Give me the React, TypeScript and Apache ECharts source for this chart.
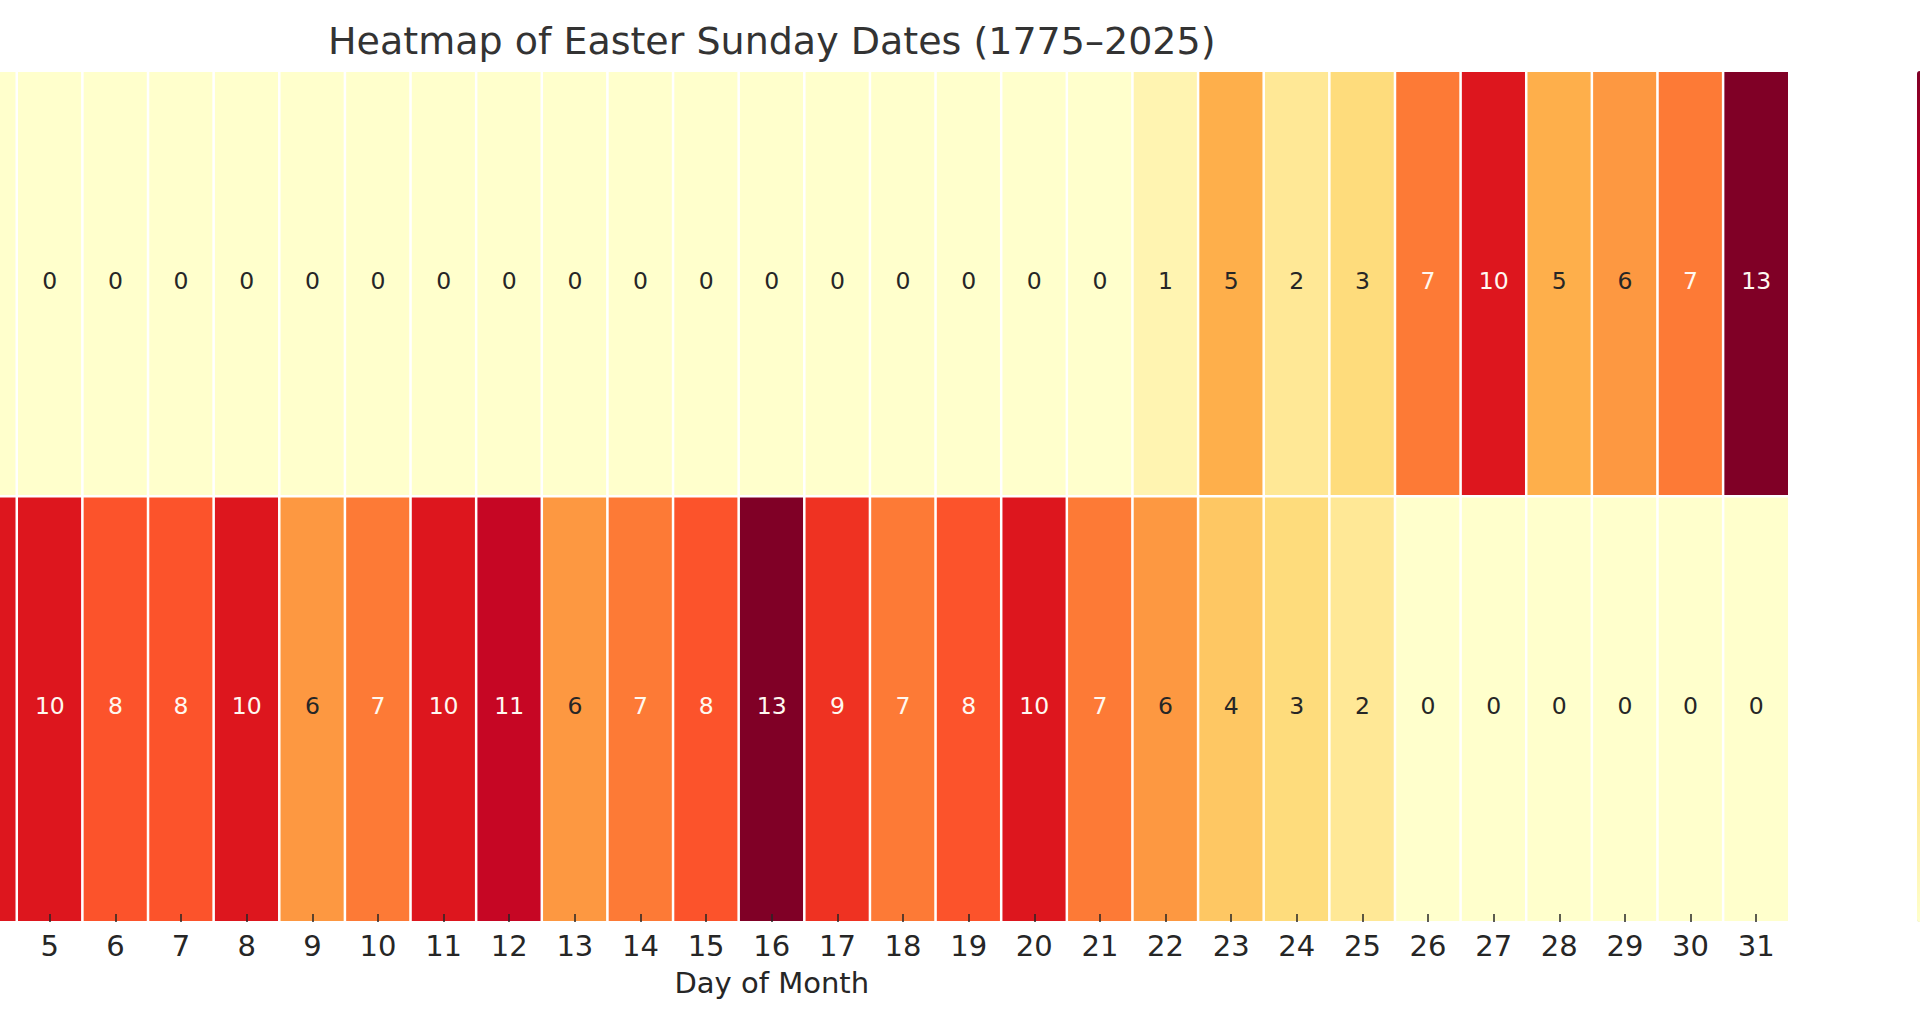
import React, { useEffect, useRef } from "react";
import * as echarts from "echarts";

const days: string[] = [
  "1", "2", "3", "4", "5", "6", "7", "8", "9", "10", "11", "12", "13", "14", "15", "16",
  "17", "18", "19", "20", "21", "22", "23", "24", "25", "26", "27", "28", "29", "30", "31",
];
const months: string[] = ["March", "April"];
const marchCounts: number[] = [
  0, 0, 0, 0, 0, 0, 0, 0, 0, 0, 0, 0, 0, 0, 0, 0, 0, 0, 0, 0, 0, 1, 5, 2, 3, 7, 10, 5, 6, 7, 13,
];
const aprilCounts: number[] = [
  7, 8, 7, 10, 10, 8, 8, 10, 6, 7, 10, 11, 6, 7, 8, 13, 9, 7, 8, 10, 7, 6, 4, 3, 2, 0, 0, 0, 0, 0, 0,
];
const titleText = "Heatmap of Easter Sunday Dates (1775\u20132025)";
const xAxisTitle = "Day of Month";
const ylOrRd: string[] = [
  "#ffffcc", "#ffeda0", "#fed976", "#feb24c", "#fd8d3c", "#fc4e2a", "#e31a1c", "#bd0026", "#800026",
];

const FONT = "DejaVu Sans";
const SHIFT = 300; // the reference is a crop of a wider figure

export default function App() {
  const ref = useRef<HTMLDivElement>(null);
  useEffect(() => {
    if (!ref.current) return;
    const chart = echarts.init(ref.current, null, { renderer: "svg" });
    const rows = [marchCounts, aprilCounts];
    const data: any[] = [];
    rows.forEach((row, yi) => {
      row.forEach((v, xi) => {
        data.push({
          value: [xi, yi, v],
          label: { color: v >= 7 ? "#fff8f0" : "#262626" },
        });
      });
    });
    const gridLeft = -245.5 + SHIFT;
    const gridWidth = 2034.5;
    chart.setOption({
      animation: false,
      backgroundColor: "#ffffff",
      textStyle: { fontFamily: FONT },
      graphic: [
        {
          type: "text",
          x: gridLeft + gridWidth / 2,
          y: 41,
          style: {
            text: titleText,
            fontFamily: FONT,
            fontSize: 38,
            fill: "#333333",
            textAlign: "center",
            textVerticalAlign: "middle",
          },
        },
      ],
      grid: {
        left: gridLeft,
        top: 71,
        width: gridWidth,
        height: 851,
        containLabel: false,
        outerBoundsMode: "none",
      },
      xAxis: {
        type: "category",
        data: days,
        axisLine: { show: false },
        axisTick: {
          show: true,
          inside: true,
          length: 8,
          alignWithLabel: true,
          lineStyle: { color: "#262626", width: 1.5 },
        },
        axisLabel: {
          interval: 0,
          fontSize: 29,
          fontFamily: FONT,
          color: "#262626",
          margin: 9,
        },
        splitLine: { show: false },
        name: xAxisTitle,
        nameLocation: "middle",
        nameGap: 46,
        nameTextStyle: { fontSize: 29, fontFamily: FONT, color: "#262626" },
        z: 10,
      },
      yAxis: {
        type: "category",
        data: months,
        inverse: true,
        axisLine: { show: false },
        axisTick: { show: false },
        axisLabel: { show: false },
        splitLine: { show: false },
      },
      visualMap: {
        type: "continuous",
        min: 0,
        max: 13,
        calculable: false,
        show: true,
        orient: "vertical",
        left: 1917 + SHIFT,
        top: 71,
        padding: 0,
        itemWidth: 42,
        itemHeight: 851,
        showLabel: false,
        inRange: { color: ylOrRd },
        textStyle: { color: "#262626", fontSize: 22 },
      },
      series: [
        {
          type: "heatmap",
          data,
          label: {
            show: true,
            fontSize: 23.5,
            fontFamily: FONT,
            offset: [0, -3],
          },
          itemStyle: { borderColor: "#ffffff", borderWidth: 2.5 },
          emphasis: { disabled: true },
        },
      ],
    });
    return () => chart.dispose();
  }, []);
  return (
    <div
      style={{
        position: "fixed",
        left: 0,
        top: 0,
        width: 1920,
        height: 1024,
        overflow: "hidden",
        background: "#fff",
      }}
    >
      <div
        ref={ref}
        style={{ position: "absolute", left: -SHIFT, top: 0, width: 1920 + SHIFT + 100, height: 1024 }}
      />
    </div>
  );
}
